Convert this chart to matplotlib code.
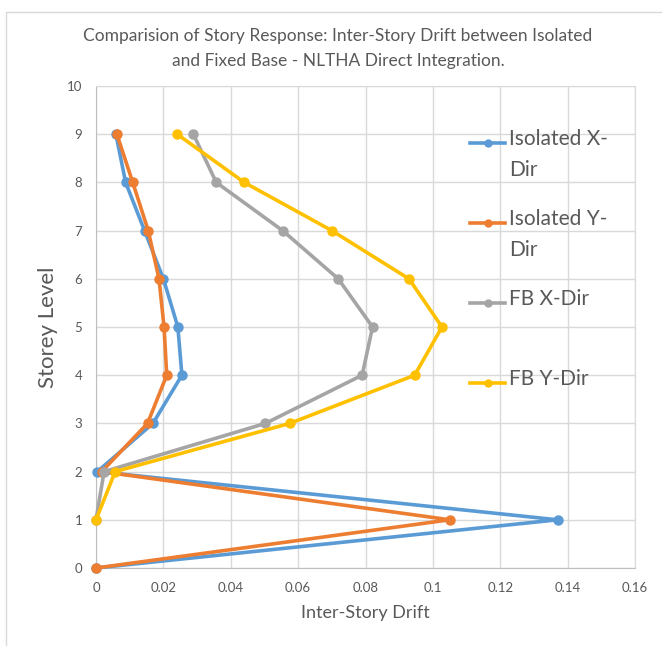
import matplotlib
matplotlib.use("Agg")
import matplotlib.pyplot as plt
from matplotlib.patches import Rectangle

plt.rcParams['font.family'] = ['Lato', 'DejaVu Sans']

# storey levels
levels_iso = [0, 1, 2, 3, 4, 5, 6, 7, 8, 9]
levels_fb = [1, 2, 3, 4, 5, 6, 7, 8, 9]

# inter-story drift
iso_x = [0, 0.137, 0.0004, 0.0169, 0.0255, 0.0243, 0.0200, 0.0144, 0.0088, 0.0059]
iso_y = [0, 0.105, 0.0017, 0.0153, 0.0210, 0.0202, 0.0187, 0.0155, 0.0109, 0.0062]
fb_x = [0, 0.0024, 0.0503, 0.0790, 0.0821, 0.0719, 0.0554, 0.0357, 0.0289]
fb_y = [0, 0.0057, 0.0575, 0.0946, 0.1027, 0.0929, 0.0700, 0.0440, 0.0241]

labels = ["Isolated X-\nDir", "Isolated Y-\nDir", "FB X-Dir", "FB Y-Dir"]
colors = ["#5B9BD5", "#ED7D31", "#A5A5A5", "#FFC000"]

xticks = [0, 0.02, 0.04, 0.06, 0.08, 0.1, 0.12, 0.14, 0.16]
xtick_labels = ["0", "0.02", "0.04", "0.06", "0.08", "0.1", "0.12", "0.14", "0.16"]
yticks = list(range(0, 11))

text_col = "#595959"
grid_col = "#D9D9D9"

fig = plt.figure(figsize=(6.62, 6.46), dpi=100)
fig.patches.append(Rectangle((6 / 662, -0.1), 1.2, 1.1 - 12 / 646,
                             transform=fig.transFigure, fill=False,
                             edgecolor=grid_col, linewidth=1.0))
ax = fig.add_axes([96 / 662, 1 - 568 / 646, 539 / 662, 482 / 646])

series = [(iso_x, levels_iso), (iso_y, levels_iso), (fb_x, levels_fb), (fb_y, levels_fb)]
for (xs, ys), c in zip(series, colors):
    ax.plot(xs, ys, color=c, linewidth=2.6, marker='o', markersize=6.5, clip_on=False, zorder=3)

ax.set_xlim(0, 0.16)
ax.set_ylim(0, 10)
ax.set_xticks(xticks)
ax.set_xticklabels(xtick_labels)
ax.set_yticks(yticks)
ax.tick_params(length=0, labelsize=9.5, colors=text_col, pad=10)
ax.grid(True, color=grid_col, linewidth=1.0)
ax.set_axisbelow(True)
for side in ['top', 'right']:
    ax.spines[side].set_color(grid_col)
for side in ['left', 'bottom']:
    ax.spines[side].set_color("#BFBFBF")

ax.set_xlabel("Inter-Story Drift", fontsize=13, color=text_col, labelpad=8)
ax.set_ylabel("Storey Level", fontsize=16, color=text_col, labelpad=6)

fig.text(338 / 662, 1 - 36 / 646,
         "Comparision of Story Response: Inter-Story Drift between Isolated",
         ha='center', va='center', fontsize=12.5, color=text_col)
fig.text(338 / 662, 1 - 61 / 646,
         "and Fixed Base - NLTHA Direct Integration.",
         ha='center', va='center', fontsize=12.5, color=text_col)

# legend drawn by hand so the handle sits on the first line of wrapped labels
leg_y = [0.882, 0.716, 0.550, 0.384]
for lab, c, yy in zip(labels, colors, leg_y):
    ax.plot([0.694, 0.759], [yy, yy], transform=ax.transAxes, color=c,
            linewidth=2.6, clip_on=False, zorder=4)
    ax.plot([0.7265], [yy], transform=ax.transAxes, color=c, marker='o',
            markersize=5, clip_on=False, zorder=4)
    ax.text(0.766, yy + 0.029, lab, transform=ax.transAxes, fontsize=15,
            color=text_col, va='top', ha='left', linespacing=1.7)

fig.savefig("out.png", dpi=100)
